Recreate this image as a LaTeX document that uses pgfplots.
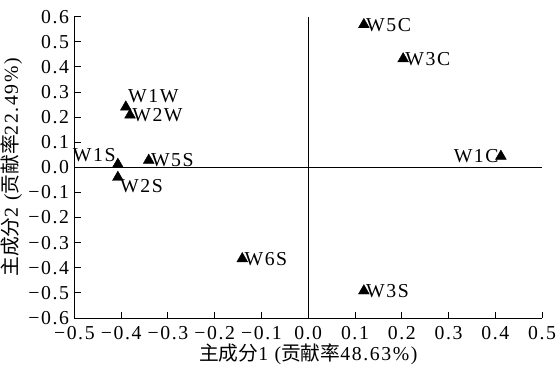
\documentclass[border=0pt]{standalone}
\usepackage{fontspec}
\setmainfont{Liberation Serif}[LetterSpace=8]
\newfontfamily\cjk{Noto Sans CJK SC}
\usepackage{pgfplots}
\pgfplotsset{compat=1.18}

\begin{document}
\begin{tikzpicture}[font=\fontsize{19}{21}\selectfont]
\begin{axis}[
  name=ax,
  width=450pt, height=290pt, scale only axis,
  xmin=-0.5, xmax=0.5, ymin=-0.6, ymax=0.6,
  axis x line=bottom, axis y line=left,
  axis line style={-, line width=0.9pt},
  tick align=inside, major tick length=6pt,
  tick style={black, line width=0.9pt},
  xtick={-0.5,-0.4,-0.3,-0.2,-0.1,0,0.1,0.2,0.3,0.4,0.5},
  xticklabels={−0.5,−0.4,−0.3,−0.2,−0.1,0.0,0.1,0.2,0.3,0.4,0.5},
  ytick={-0.6,-0.5,-0.4,-0.3,-0.2,-0.1,0,0.1,0.2,0.3,0.4,0.5,0.6},
  yticklabels={−0.6,−0.5,−0.4,−0.3,−0.2,−0.1,0.0,0.1,0.2,0.3,0.4,0.5,0.6},
  xticklabel style={inner sep=1pt, yshift=-7pt},
  yticklabel style={inner sep=1pt, xshift=-4pt},
  xlabel={{\cjk 主成分}1 ({\cjk 贡献率}48.63\%)},
  ylabel={{\cjk 主成分}2 ({\cjk 贡献率}22.49\%)},
  xlabel style={yshift=-1pt, inner sep=1pt},
  ylabel style={yshift=4pt, inner sep=1pt},
  clip=false,
  pca/.style={only marks, mark=triangle*, mark size=6pt, black,
    point meta=explicit symbolic, nodes near coords,
    every node near coord/.append style={anchor=#1, inner sep=2pt, black}},
]
\draw[line width=0.9pt] (axis cs:0,-0.6) -- (axis cs:0,0.6);
\draw[line width=0.9pt] (axis cs:-0.5,0) -- (axis cs:0.5,0);
% labels to the right
\addplot[pca=west] coordinates {
  (0.119,0.568) [W5C]
  (0.203,0.432) [W3C]
  (-0.381,0.208) [W2W]
  (-0.341,0.028) [W5S]
  (-0.141,-0.364) [W6S]
  (0.119,-0.492) [W3S]
};
\addplot[pca=east] coordinates {(0.412,0.044) [W1C]};
\addplot[pca=south west,
  every node near coord/.append style={yshift=2pt}] coordinates {(-0.390,0.240) [W1W]};
\addplot[pca=south east] coordinates {(-0.407,0.012) [W1S]};
\addplot[pca=north west] coordinates {(-0.407,-0.040) [W2S]};
\end{axis}
% room above the plot, as in the reference
\path ([yshift=16pt]ax.north);
\end{tikzpicture}
\end{document}
